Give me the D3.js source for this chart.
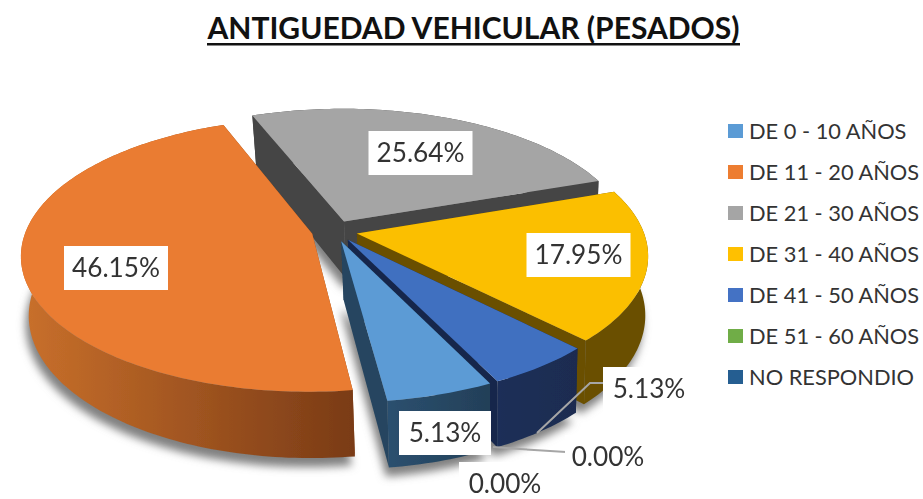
<!DOCTYPE html>
<html><head><meta charset="utf-8">
<script src="https://cdnjs.cloudflare.com/ajax/libs/d3/7.8.5/d3.min.js"></script>
<style>html,body{margin:0;padding:0;background:#fff}svg{display:block}text{font-family:Lato,"Open Sans",sans-serif}</style>
</head><body><svg id="c" width="923" height="499"></svg>
<script>
const titleText = "ANTIGUEDAD VEHICULAR (PESADOS)";
const categories = ["DE 0 - 10 AÑOS","DE 11 - 20 AÑOS","DE 21 - 30 AÑOS","DE 31 - 40 AÑOS","DE 41 - 50 AÑOS","DE 51 - 60 AÑOS","NO RESPONDIO"];
const values = [5.13,46.15,25.64,17.95,5.13,0,0];
const topColors = ["#5B9BD5","#EA7B30","#A5A5A5","#FBBF00","#4170C0","#70AD47","#255E91"];
const legendColors = ["#5B9BD5","#ED7D31","#A5A5A5","#FFC000","#4472C4","#70AD47","#255E91"];
const wallLeft = ["#2b506f","#c9702b","#444444","#6a5000","#1b2f58","#3d5f27","#163a5a"];
const wallRight = ["#233f58","#7a3b16","#444444","#6a5000","#1a2c50","#3d5f27","#163a5a"];
const radialWall = ["#254560","#8a4a1c","#444444","#6a5000","#16284c","#3d5f27","#163a5a"];
// label box layout (x,y = box centre), same order as values
const labelLayout = [[445,433],[116,268],[420.5,153],[578.5,255],[649,389],[608,457],[505,484]];

const svg = d3.select("#c");
const defs = svg.append("defs");
defs.append("filter").attr("id","blur").attr("x","-10%").attr("y","-10%").attr("width","120%").attr("height","120%")
  .append("feGaussianBlur").attr("stdDeviation",4.5);
defs.append("filter").attr("id","soft").attr("x","-2%").attr("y","-2%").attr("width","104%").attr("height","104%")
  .append("feGaussianBlur").attr("stdDeviation",0.55);

// perspective plane
const cx=334.5, cy=231, A=132.8, B=286.4, K=0.154, DEPTH=58, EXPLODE=0.08;
const persp = v => 1/(1-K*v);
const top3d = (u,v)=>{const s=persp(v);return [cx+B*u*s, cy+A*v*s];};
const bot3d = (u,v)=>{const s=persp(v);return [cx+2.5+0.983*B*u*s, cy+DEPTH*s+0.985*A*v*s];};

const pie = d3.pie().value(d=>d).sort(null)
  .startAngle(154*Math.PI/180).endAngle((154+360)*Math.PI/180);
const arcs = pie(values).map((d,i)=>({...d,i}));
const line = d3.line();
const mid = d=>(d.startAngle+d.endAngle)/2;

function geom(d){
  const m=mid(d), ox=EXPLODE*Math.sin(m), oy=-EXPLODE*Math.cos(m);
  const n=Math.max(2,Math.ceil((d.endAngle-d.startAngle)/0.02));
  const ang=d3.range(n+1).map(k=>d.startAngle+(d.endAngle-d.startAngle)*k/n);
  const plane=ang.map(a=>[ox+Math.sin(a),oy-Math.cos(a)]);
  return {ox,oy,plane};
}
const shadow = svg.append("g").attr("filter","url(#blur)");
const pies = svg.append("g").attr("filter","url(#soft)");

arcs.filter(d=>d.value>0).forEach(d=>{
  const g=geom(d);
  const pts=[[g.ox,g.oy],...g.plane].map(p=>bot3d(p[0],p[1]));
  shadow.append("path").attr("d",line(pts)+"Z").attr("fill","#808080")
    .attr("transform","translate(-3,9)");
});

arcs.slice().sort((a,b)=>(-Math.cos(mid(a)))-(-Math.cos(mid(b)))).forEach(d=>{
  if(d.value<=0) return;
  const g=geom(d), gp=pies.append("g");
  const T=g.plane.map(p=>top3d(p[0],p[1])), Bt=g.plane.map(p=>bot3d(p[0],p[1]));
  const aT=top3d(g.ox,g.oy), aB=bot3d(g.ox,g.oy);
  const x0=d3.min(T,p=>p[0]), x1=d3.max(T,p=>p[0]);
  const id="w"+d.i;
  const lg=defs.append("linearGradient").attr("id",id).attr("gradientUnits","userSpaceOnUse")
    .attr("x1",x0).attr("x2",x1).attr("y1",0).attr("y2",0);
  lg.append("stop").attr("offset",0).attr("stop-color",wallLeft[d.i]);
  lg.append("stop").attr("offset",1).attr("stop-color",wallRight[d.i]);
  // radial walls
  [[T[0],Bt[0]],[T[T.length-1],Bt[Bt.length-1]]].forEach(([t,b])=>{
    gp.append("path").attr("d",line([aT,t,b,aB])+"Z").attr("fill",radialWall[d.i]);
  });
  // outer wall
  gp.append("path").attr("d",line([...T,...Bt.slice().reverse()])+"Z").attr("fill",`url(#${id})`);
  // top face
  gp.append("path").attr("d",line([aT,...T])+"Z").attr("fill",topColors[d.i]);
});

// leader lines
const leaderData=[[[537,433],[590,383],[604,383]],[[493,447],[520,449],[566,452]]];
svg.append("g").selectAll("path").data(leaderData).join("path")
  .attr("d",d=>line(d)).attr("fill","none").attr("stroke","#a6a6a6").attr("stroke-width",2);

// data labels
const fmt=d3.format(".2f");
const lab=svg.append("g");
const bw=[92,104,104,104,92,86,92], bh=44;
values.forEach((v,i)=>{
  const [x,y]=labelLayout[i];
  const y0=y-bh/2, y1=Math.min(499,y+bh/2);
  lab.append("rect").attr("x",x-bw[i]/2).attr("y",y0).attr("width",bw[i]).attr("height",y1-y0).attr("fill","#fff");
  lab.append("text").attr("x",x).attr("y",y).attr("dy","0.36em").attr("text-anchor","middle")
    .attr("font-size",26.2).attr("fill","#333").text(fmt(v)+"%");
});

// legend
const ly=d3.scalePoint().domain(categories).range([131,377]);
const leg=svg.append("g").selectAll("g").data(categories).join("g").attr("transform",d=>`translate(728,${ly(d)})`);
leg.append("rect").attr("y",-7).attr("width",15).attr("height",14).attr("fill",(d,i)=>legendColors[i]);
leg.append("text").attr("x",21).attr("dy","0.36em").attr("font-size",21.8).attr("fill","#333").text(d=>d);

// title
svg.append("text").attr("x",473.5).attr("y",38.5).attr("text-anchor","middle").attr("font-size",30)
  .attr("font-weight",700).attr("fill","#111").text(titleText);
svg.append("rect").attr("x",207).attr("y",43).attr("width",533).attr("height",2.5).attr("fill","#111");
</script></body></html>
